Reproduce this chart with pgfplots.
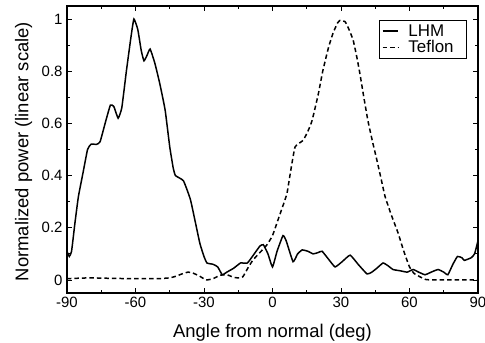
\documentclass[border=0pt]{standalone}
\usepackage{pgfplots}
\pgfplotsset{compat=1.18}
\usepackage{fontspec}
\setmainfont{Liberation Sans}
\begin{document}
\begin{tikzpicture}
\begin{axis}[
  scale only axis,
  width=411bp, height=287bp,
  xmin=-90, xmax=90, ymin=-0.05, ymax=1.05,
  xtick={-90,-60,...,90},
  ytick={0,0.2,0.4,0.6,0.8,1},
  minor x tick num=1, minor y tick num=1,
  tick align=inside,
  major tick length=5bp, minor tick length=3bp,
  axis line style={line width=1.1pt},
  every tick/.style={line width=0.9pt, black},
  /pgf/number format/assume math mode=true,
  tick label style={font=\fontsize{15}{17}\selectfont},
  yticklabel style={xshift=-1bp},
  xticklabel style={yshift=-1bp},
  label style={font=\fontsize{18.5}{21}\selectfont},
  xlabel={Angle from normal (deg)},
  ylabel={Normalized power (linear scale)},
  xlabel style={at={(axis description cs:0.5,0)}, anchor=base, yshift=-44bp},
  ylabel style={at={(axis description cs:-0.1058,0.493)}, anchor=center},
  legend style={at={(0.973,0.951)}, anchor=north east, font=\fontsize{17}{19}\selectfont, draw=black, line width=1pt, inner xsep=2bp, inner ysep=2bp, row sep=-1bp},
  legend cell align=left,
  legend image code/.code={\draw[#1] (0bp,0bp) -- (15bp,0bp);},
]
\addplot[black, line width=1.5pt, smooth, tension=0.25] coordinates {
(-90,0.11) (-89,0.09) (-88,0.11) (-86.5,0.22) (-85,0.32) (-83,0.41) (-81,0.50) (-79.5,0.52) (-77,0.52) (-75.5,0.53) (-73,0.61) (-71,0.67) (-69.5,0.665) (-67.6,0.62) (-66,0.66) (-64,0.80) (-62,0.93) (-60.7,1.0) (-59,0.96) (-57.5,0.88) (-56.3,0.84) (-55,0.86) (-53.6,0.885) (-51.5,0.83) (-49.3,0.75) (-47,0.65) (-45,0.51) (-43.5,0.43) (-42.5,0.40) (-39,0.38) (-36,0.31) (-34,0.23) (-31.8,0.14) (-30,0.09) (-28.7,0.065) (-26,0.06) (-24,0.05) (-22,0.02) (-20,0.03) (-17,0.045) (-14,0.065) (-11,0.065) (-8,0.1) (-5.5,0.13) (-4,0.135) (-2,0.1) (0,0.05) (2,0.11) (4.6,0.17) (6,0.15) (9,0.07) (11,0.10) (13,0.115) (15.5,0.11) (17.8,0.10) (20,0.105) (21.7,0.11) (24.5,0.08) (27.4,0.05) (30.5,0.07) (34,0.095) (37.5,0.06) (41.4,0.023) (43.5,0.03) (45.7,0.045) (48.4,0.065) (50.5,0.055) (52.8,0.04) (56,0.035) (59,0.03) (61.6,0.04) (64,0.03) (66.8,0.02) (69.5,0.03) (72.5,0.04) (75,0.03) (76.8,0.02) (79,0.06) (81,0.09) (83,0.085) (84,0.075) (87,0.085) (88.5,0.10) (90,0.15)
};
\addlegendentry{\makebox[62bp][l]{\hspace{8bp}LHM}}
\addplot[black, line width=1.5pt, dash pattern=on 4.5pt off 3pt, smooth, tension=0.25] coordinates {
(-90,0.005) (-80,0.008) (-70,0.006) (-60,0.005) (-50,0.005) (-45,0.008) (-42,0.015) (-40,0.022) (-37,0.03) (-35,0.027) (-32,0.015) (-29,0.0) (-26,0.005) (-23,0.018) (-20,0.02) (-17,0.01) (-15,0.008) (-13,0.012) (-10.5,0.05) (-8.5,0.077) (-5,0.11) (-2.4,0.135) (0,0.17) (2,0.22) (4,0.27) (6.3,0.33) (8,0.42) (9.9,0.51) (13.4,0.535) (15.5,0.57) (17.3,0.61) (20,0.71) (22,0.80) (24.5,0.89) (26.5,0.946) (28.5,0.985) (29.6,0.995) (31.8,0.99) (33.5,0.96) (35.3,0.92) (36.8,0.86) (38.3,0.79) (40,0.70) (41.8,0.61) (43.8,0.53) (45.7,0.46) (47.5,0.39) (49.3,0.32) (52,0.25) (55,0.18) (57.5,0.11) (60,0.05) (62,0.025) (64.6,0.012) (67,0.002) (70,0.0) (80,0.0) (90,0.0)
};
\addlegendentry{\makebox[62bp][l]{\hspace{8bp}Teflon}}
\end{axis}
\pgfresetboundingbox
\path (current axis.south west) ++(-67bp,-50bp) rectangle ++(485bp,343bp);
\end{tikzpicture}
\end{document}
